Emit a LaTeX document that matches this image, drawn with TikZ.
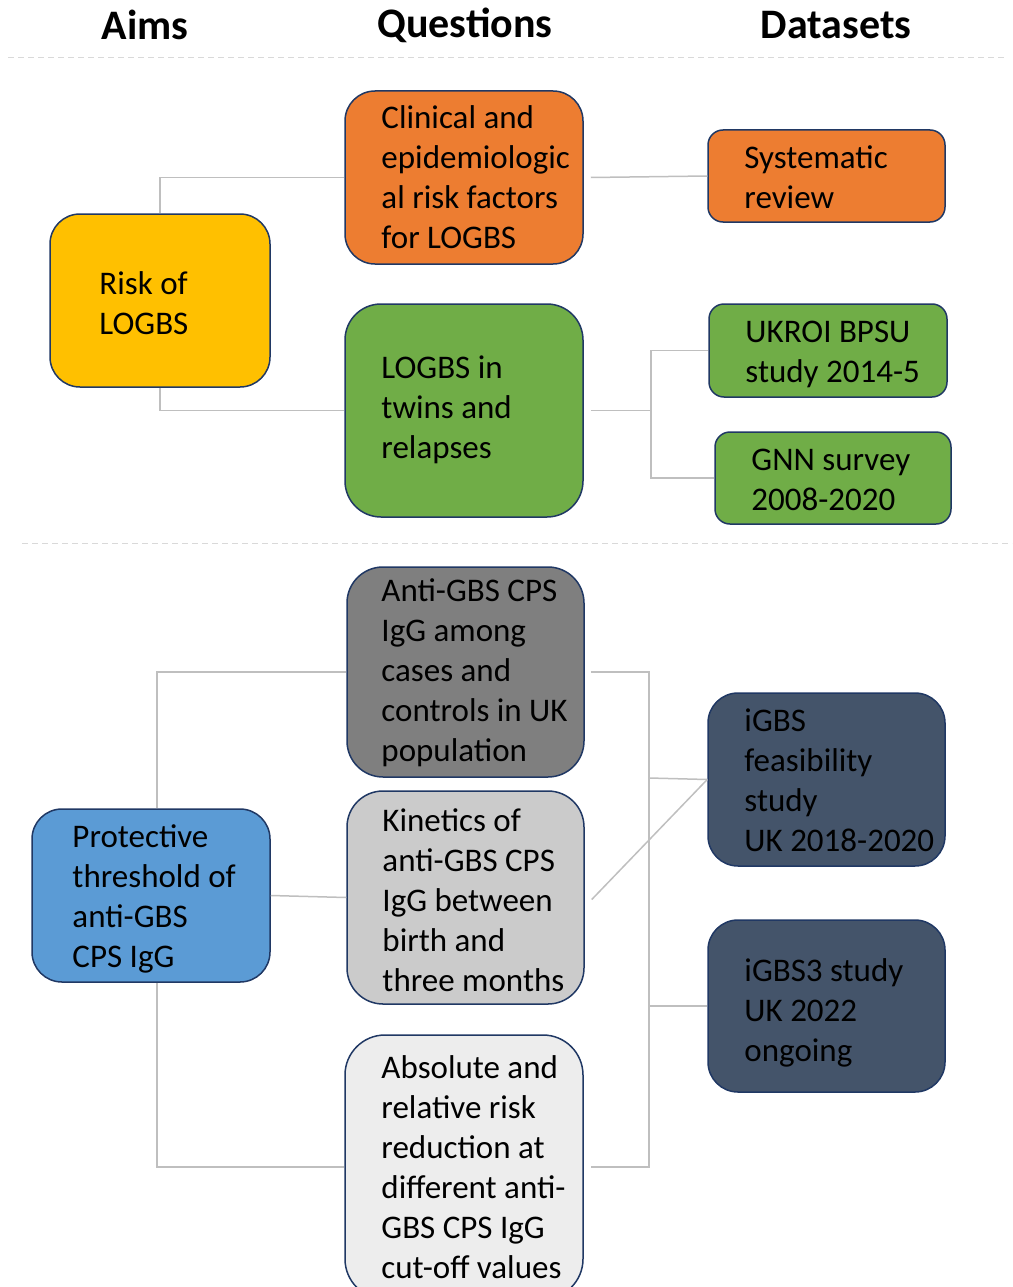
\documentclass[tikz,border=0pt]{standalone}
\usepackage{fontspec}
\setmainfont{Carlito}
\definecolor{edge}{HTML}{203864}
\definecolor{conn}{HTML}{BFBFBF}
\definecolor{dashc}{HTML}{D9D9D9}
\definecolor{cOrange}{HTML}{ED7D31}
\definecolor{cGreen}{HTML}{70AD47}
\definecolor{cYellow}{HTML}{FFC000}
\definecolor{cBlue}{HTML}{5B9BD5}
\definecolor{cDark}{HTML}{44546A}
\definecolor{cGray}{HTML}{7F7F7F}
\definecolor{cLight}{HTML}{CBCBCB}
\definecolor{cPale}{HTML}{EDEDED}
\newcommand{\bodyfont}{\fontsize{33}{40}\selectfont}
\newcommand{\headfont}{\fontsize{42}{48}\selectfont\bfseries}
\tikzset{
  box/.style={draw=edge, line width=1.5pt, inner sep=0pt, anchor=center},
  txt/.style={align=left, font=\bodyfont, anchor=west, inner sep=0pt, text=black},
  head/.style={font=\headfont, anchor=center, inner sep=0pt},
  link/.style={draw=conn, line width=1.5pt},
  sep/.style={draw=dashc, line width=1pt, dash pattern=on 6pt off 4pt},
}
\begin{document}
\begin{tikzpicture}[x=1pt,y=-1pt]
\useasboundingbox (0,0) rectangle (1012,1287);
\clip (0,0) rectangle (1012,1287);

% headers
\node[head] (hA) at (145,25) {Aims};
\node[head] (hQ) at (465,25) {Questions};
\node[head] (hD) at (836,25) {Datasets};

% separators
\draw[sep] (8,58) -- (1004,58);
\draw[sep] (22,543) -- (1012,543);

% upper section boxes
\node[box, fill=cYellow, minimum width=220pt, minimum height=173pt, rounded corners=30pt] (risk) at (160,300.5) {};
\node[box, fill=cOrange, minimum width=238pt, minimum height=173pt, rounded corners=30pt] (clin) at (464,177.5) {};
\node[box, fill=cGreen, minimum width=238pt, minimum height=213pt, rounded corners=36pt] (twins) at (464,410.5) {};
\node[box, fill=cOrange, minimum width=237pt, minimum height=92pt, rounded corners=15pt] (sysrev) at (826.5,176) {};
\node[box, fill=cGreen, minimum width=238pt, minimum height=93pt, rounded corners=15pt] (ukroi) at (828,350.5) {};
\node[box, fill=cGreen, minimum width=236pt, minimum height=92pt, rounded corners=15pt] (gnn) at (833,478) {};

% upper section texts
\node[txt] (riskT) at ([xshift=50pt,yshift=-2.5pt]risk.west) {Risk of\\LOGBS};
\node[txt] (clinT) at ([xshift=37pt]clin.west) {Clinical and\\epidemiologic\\al risk factors\\for LOGBS};
\node[txt] (twinsT) at ([xshift=37pt,yshift=0.5pt]twins.west) {LOGBS in\\twins and\\relapses};
\node[txt] (sysrevT) at ([xshift=37pt,yshift=-1pt]sysrev.west) {Systematic\\review};
\node[txt] (ukroiT) at ([xshift=37pt,yshift=-4pt]ukroi.west) {UKROI BPSU\\study 2014-5};
\node[txt] (gnnT) at ([xshift=37pt,yshift=-2pt]gnn.west) {GNN survey\\2008-2020};

% lower section boxes
\node[box, fill=cBlue, minimum width=238pt, minimum height=173pt, rounded corners=30pt] (prot) at (151,895.5) {};
\node[box, fill=cGray, minimum width=237pt, minimum height=210pt, rounded corners=36pt] (anti) at (465.5,672) {};
\node[box, fill=cLight, minimum width=237pt, minimum height=213pt, rounded corners=36pt] (kin) at (465.5,897.5) {};
\node[box, fill=cPale, minimum width=238pt, minimum height=264pt, rounded corners=40pt] (abs) at (464,1167) {};
\node[box, fill=cDark, minimum width=237pt, minimum height=173pt, rounded corners=30pt] (igbs) at (826.5,779.5) {};
\node[box, fill=cDark, minimum width=237pt, minimum height=172pt, rounded corners=30pt] (igbs3) at (826.5,1006) {};

% lower section texts
\node[txt] (protT) at ([xshift=41pt,yshift=-3pt]prot.west) {Protective\\threshold of\\anti-GBS\\CPS IgG};
\node[txt] (antiT) at ([xshift=35pt,yshift=-1pt]anti.west) {Anti-GBS CPS\\IgG among\\cases and\\controls in UK\\population};
\node[txt] (kinT) at ([xshift=36pt,yshift=-3pt]kin.west) {Kinetics of\\anti-GBS CPS\\IgG between\\birth and\\three months};
\node[txt] (absT) at ([xshift=37pt]abs.west) {Absolute and\\relative risk\\reduction at\\different anti-\\GBS CPS IgG\\cut-off values};
\node[txt] (igbsT) at ([xshift=37pt,yshift=-1pt]igbs.west) {iGBS\\feasibility\\study\\UK 2018-2020};
\node[txt] (igbs3T) at ([xshift=37pt,yshift=-7pt]igbs3.west) {iGBS3 study\\UK 2022\\ongoing};

% connectors upper
\draw[link] (risk.north) |- (clin.west);
\draw[link] (risk.south) |- (twins.west);
\draw[link] ([xshift=7pt]clin.east) -- (sysrev.west);
\coordinate (j1) at (651,410.5);
\draw[link] ([xshift=7pt]twins.east) -- (j1) |- (ukroi.west);
\draw[link] (j1) |- (gnn.west);

% connectors lower
\draw[link] ([xshift=6pt]prot.north) |- (anti.west);
\draw[link] (prot.east) -- (kin.west);
\draw[link] ([xshift=6pt]prot.south) |- (abs.west);
\coordinate (bt) at (649,672);
\coordinate (bb) at (649,1167);
\coordinate (b1) at (649,778);
\coordinate (b2) at (649,1006);
\draw[link] ([xshift=6pt]anti.east) -- (bt) -- (bb) -- ([xshift=7pt]abs.east);
\draw[link] (b1) -- (igbs.west);
\draw[link] (b2) -- (igbs3.west);
\draw[link] ([xshift=7pt,yshift=-2pt]kin.east) -- (igbs.west);
\end{tikzpicture}
\end{document}
